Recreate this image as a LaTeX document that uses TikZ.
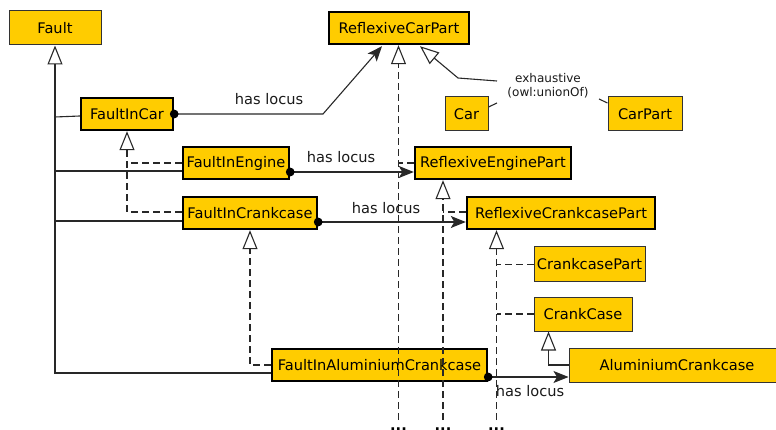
\documentclass[tikz,border=0pt]{standalone}
\usepackage{fontspec}
\setmainfont{DejaVu Sans}
\usetikzlibrary{arrows.meta,calc}
\definecolor{boxyellow}{RGB}{255,204,0}
\definecolor{linegray}{RGB}{40,40,40}
\newcommand{\mainsize}{\fontsize{14.6}{17}\selectfont}
\newcommand{\smallsize}{\fontsize{12}{14}\selectfont}
\tikzset{
  boxbase/.style={draw=black, fill=boxyellow, inner sep=0pt, font=\mainsize, text=black},
  thinbox/.style={boxbase, line width=1pt, draw=black!80, minimum height=34pt},
  thickbox/.style={boxbase, line width=2.4pt, minimum height=32pt},
  conn/.style={draw=linegray, line width=1.1pt},
  dconn/.style={conn, dash pattern=on 7pt off 4pt},
  gen/.style={conn, -{Triangle[open, fill=white, length=19pt, width=15pt, line width=1.1pt]}},
  dgen/.style={dconn, -{Triangle[open, fill=white, length=19pt, width=15pt, line width=1.1pt]}},
  assoc/.style={conn, -{Stealth[length=15pt, width=12pt, inset=3.5pt]}},
  lbl/.style={font=\mainsize, text=black!90, inner sep=0pt},
  more/.style={font=\mainsize\bfseries, inner sep=0pt, anchor=base}
}
\begin{document}
\begin{tikzpicture}[x=1pt,y=-1pt]
\useasboundingbox (0,0) rectangle (776,430);
% classes
\node[thinbox, minimum width=92pt] (Fault) at (55,28) {Fault};
\node[thickbox, minimum width=140pt] (ReflexiveCarPart) at (399,28) {ReflexiveCarPart};
\node[thickbox, minimum width=92pt] (FaultInCar) at (127,114) {FaultInCar};
\node[thinbox, minimum width=43pt] (Car) at (466.5,114) {Car};
\node[thinbox, minimum width=74pt] (CarPart) at (645,114) {CarPart};
\node[thickbox, minimum width=106pt] (FaultInEngine) at (236,163) {FaultInEngine};
\node[thickbox, minimum width=156pt] (ReflexiveEnginePart) at (493,163) {ReflexiveEnginePart};
\node[thickbox, minimum width=134pt] (FaultInCrankcase) at (250,213) {FaultInCrankcase};
\node[thickbox, minimum width=188pt] (ReflexiveCrankcasePart) at (561,213) {ReflexiveCrankcasePart};
\node[thinbox, minimum width=111pt, minimum height=35pt] (CrankcasePart) at (589.5,264.5) {CrankcasePart};
\node[thinbox, minimum width=98pt] (CrankCase) at (583,314) {CrankCase};
\node[thickbox, minimum width=215pt] (FaultInAluminiumCrankcase) at (379.5,365) {FaultInAluminiumCrankcase};
\node[thinbox, minimum width=216pt] (AluminiumCrankcase) at (677,365) {AluminiumCrankcase};
\node[font=\smallsize, text=black!90, align=center, inner sep=0pt] (exh) at (548,86) {exhaustive\\(owl:unionOf)};

% Fault hierarchy (solid)
\draw[gen] (FaultInAluminiumCrankcase.west |- 0,373) -| (Fault.south);
\draw[conn] (FaultInCar.west |- 0,116) -- (Fault.south |- 0,117);
\draw[conn] (FaultInEngine.west |- 0,171) -- (Fault.south |- 0,171);
\draw[conn] (FaultInCrankcase.west |- 0,221) -- (Fault.south |- 0,221);

% FaultInCar hierarchy (dashed)
\draw[dgen] (FaultInCrankcase.west |- 0,212) -| (FaultInCar.south);
\draw[dconn] (FaultInEngine.west) -- (FaultInCar.south |- FaultInEngine.west);

% FaultInCrankcase hierarchy (dashed)
\draw[dgen] (FaultInAluminiumCrankcase.west) -| (FaultInCrankcase.south);

% part hierarchy (dashed)
\coordinate (d1) at (398.5,420);
\coordinate (d2) at (443,420);
\coordinate (d3) at (496.5,420);
\draw[dgen] (d1) -- (d1 |- ReflexiveCarPart.south);
\draw[dconn] (ReflexiveEnginePart.west) -- (d1 |- ReflexiveEnginePart.west);
\draw[dgen] (d2) -- (d2 |- ReflexiveEnginePart.south);
\draw[dconn] (ReflexiveCrankcasePart.west |- 0,212) -- (d2 |- 0,212);
\draw[dgen] (d3) -- (d3 |- ReflexiveCrankcasePart.south);
\draw[dconn] (CrankcasePart.west) -- (d3 |- CrankcasePart.west);
\draw[dconn] (CrankCase.west) -- (d3 |- CrankCase.west);
\node[more] (m1) at (398.5,430) {...};
\node[more] (m2) at (443,430) {...};
\node[more] (m3) at (496.5,430) {...};

% CrankCase hierarchy (solid)
\draw[gen] (AluminiumCrankcase.west) -| ($(CrankCase.south west)+(15,0)$);

% exhaustive union
\coordinate (e1) at (497,81);
\coordinate (e0) at (458,78);
\coordinate (e2) at (497,103);
\coordinate (e3) at (599,99);
\draw[gen] (e1) -- (e0) -- ($(ReflexiveCarPart.south)+(21,1)$);
\draw[conn] (Car.east |- 0,107) -- (e2);
\draw[conn] (CarPart.west |- 0,103) -- (e3);

% has locus
\coordinate (k1) at (323,114);
\draw[assoc] (FaultInCar.east) -- (k1) -- ($(ReflexiveCarPart.south)+(-17,1)$);
\fill[black] (FaultInCar.east) circle (4.4pt);
\node[lbl] (hl1) at (269,99) {has locus};

\draw[assoc] (FaultInEngine.east |- 0,172) -- (ReflexiveEnginePart.west |- 0,172);
\fill[black] (FaultInEngine.east |- 0,172) circle (4.4pt);
\node[lbl] (hl2) at (341,157) {has locus};

\draw[assoc] (FaultInCrankcase.east |- 0,222) -- (ReflexiveCrankcasePart.west |- 0,222);
\fill[black] (FaultInCrankcase.east |- 0,222) circle (4.4pt);
\node[lbl] (hl3) at (386,208) {has locus};

\draw[assoc] (FaultInAluminiumCrankcase.east |- 0,377) -- (AluminiumCrankcase.west |- 0,377);
\fill[black] (FaultInAluminiumCrankcase.east |- 0,377) circle (4.4pt);
\node[lbl] (hl4) at (530,391) {has locus};
\end{tikzpicture}
\end{document}
